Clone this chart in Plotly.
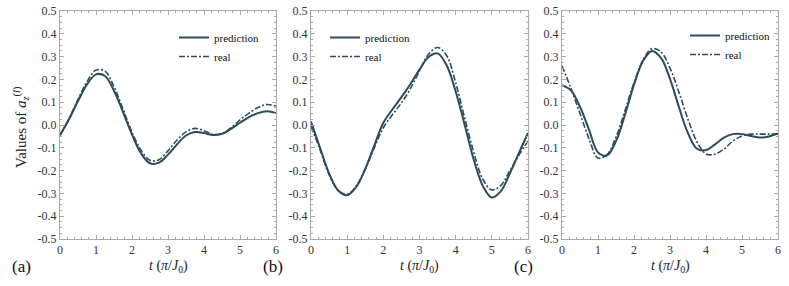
import plotly.graph_objects as go

W, H = 789, 286

t = [0, 0.25, 0.5, 0.75, 1.0, 1.25, 1.5, 1.75, 2.0, 2.25, 2.5, 2.75, 3.0,
     3.25, 3.5, 3.75, 4.0, 4.25, 4.5, 4.75, 5.0, 5.25, 5.5, 5.75, 6.0]

pred_a = [-0.045, 0.025, 0.105, 0.178, 0.222, 0.215, 0.15, 0.057, -0.042, -0.124,
          -0.168, -0.165, -0.13, -0.085, -0.046, -0.031, -0.035, -0.044, -0.039, -0.017,
          0.01, 0.035, 0.052, 0.06, 0.052]
real_a = [-0.045, 0.028, 0.112, 0.19, 0.241, 0.236, 0.168, 0.07, -0.032, -0.11,
          -0.155, -0.152, -0.113, -0.066, -0.03, -0.015, -0.025, -0.041, -0.037, -0.012,
          0.022, 0.052, 0.077, 0.09, 0.083]

pred_b = [0.015, -0.1, -0.212, -0.287, -0.308, -0.272, -0.192, -0.09, 0.01, 0.068,
          0.122, 0.18, 0.243, 0.298, 0.314, 0.262, 0.147, 0.0, -0.152, -0.267,
          -0.318, -0.29, -0.212, -0.122, -0.035]
real_b = [-0.005, -0.108, -0.218, -0.287, -0.304, -0.268, -0.195, -0.1, -0.012, 0.045,
          0.097, 0.16, 0.238, 0.31, 0.34, 0.305, 0.185, 0.03, -0.12, -0.238,
          -0.285, -0.265, -0.2, -0.132, -0.07]

pred_c = [0.175, 0.152, 0.08, -0.02, -0.12, -0.134, -0.071, 0.045, 0.177, 0.281,
          0.325, 0.294, 0.202, 0.078, -0.036, -0.104, -0.11, -0.085, -0.055, -0.04,
          -0.04, -0.048, -0.055, -0.05, -0.037]
real_c = [0.26, 0.16, 0.05, -0.06, -0.145, -0.13, -0.053, 0.063, 0.185, 0.285,
          0.335, 0.32, 0.25, 0.143, 0.025, -0.074, -0.127, -0.128, -0.105, -0.07,
          -0.048, -0.04, -0.04, -0.04, -0.04]

x_ticks = [0, 1, 2, 3, 4, 5, 6]
x_ticktext = ["0", "1", "2", "3", "4", "5", "6"]
y_ticks = [-0.5, -0.4, -0.3, -0.2, -0.1, 0.0, 0.1, 0.2, 0.3, 0.4, 0.5]
y_ticktext = ["-0.5", "-0.4", "-0.3", "-0.2", "-0.1", "0.0", "0.1", "0.2", "0.3", "0.4", "0.5"]
panel_labels = ["(a)", "(b)", "(c)"]
series_names = ["prediction", "real"]

LINE = "#2d4b5b"
FRAME = "#a8a8a8"
FONT = "Liberation Serif, Times New Roman, DejaVu Serif, serif"

# pixel layout
panels_px = [(60, 276), (311, 528), (562, 778)]
y_top, y_bot = 11, 239
legend_px = [(174, 23), (325, 23), (685, 21)]

fig = go.Figure()
data = [(pred_a, real_a), (pred_b, real_b), (pred_c, real_c)]
for i, (p, r) in enumerate(data):
    sfx = "" if i == 0 else str(i + 1)
    leg = "legend" + sfx
    fig.add_trace(go.Scatter(x=t, y=p, mode="lines", name=series_names[0],
                             line=dict(color=LINE, width=2, shape="spline", smoothing=1.0),
                             xaxis="x" + sfx, yaxis="y" + sfx, legend=leg))
    fig.add_trace(go.Scatter(x=t, y=r, mode="lines", name=series_names[1],
                             line=dict(color=LINE, width=1.6, shape="spline", smoothing=1.0,
                                       dash="6px,2px,2px,2px"),
                             xaxis="x" + sfx, yaxis="y" + sfx, legend=leg))

layout = dict(width=W, height=H, autosize=False, margin=dict(l=0, r=0, t=0, b=0, pad=0),
              paper_bgcolor="white", plot_bgcolor="white", showlegend=True,
              font=dict(family=FONT, size=11, color="#333333"))

ydom = [(H - y_bot) / H, (H - y_top) / H]
for i, (x0, x1) in enumerate(panels_px):
    sfx = "" if i == 0 else str(i + 1)
    layout["xaxis" + sfx] = dict(
        domain=[x0 / W, x1 / W], range=[0, 6], anchor="y" + sfx, automargin=False,
        tickvals=x_ticks, ticktext=x_ticktext, ticks="inside", ticklen=4,
        tickcolor=FRAME, showline=True, linecolor=FRAME, linewidth=1, mirror="allticks",
        showgrid=False, zeroline=False,
        minor=dict(ticks="inside", dtick=0.2, ticklen=2, tickcolor=FRAME, showgrid=False),
        tickfont=dict(family=FONT, size=12, color="#333333"))
    layout["yaxis" + sfx] = dict(
        domain=ydom, range=[-0.5, 0.5], anchor="x" + sfx, automargin=False,
        tickvals=y_ticks, ticktext=y_ticktext, ticks="inside", ticklen=4,
        tickcolor=FRAME, showline=True, linecolor=FRAME, linewidth=1, mirror="allticks",
        showgrid=False, zeroline=False,
        minor=dict(ticks="inside", dtick=0.025, ticklen=2, tickcolor=FRAME, showgrid=False),
        tickfont=dict(family=FONT, size=12, color="#333333"))
    lx, ly = legend_px[i]
    layout["legend" + sfx] = dict(
        x=lx / W, y=(H - ly) / H, xanchor="left", yanchor="top",
        bgcolor="rgba(0,0,0,0)", borderwidth=0, itemwidth=30,
        tracegroupgap=0, font=dict(family=FONT, size=11, color="#111111"))

annotations = []
for i, (x0, x1) in enumerate(panels_px):
    annotations.append(dict(
        text="<i>t</i> (<i>π</i>/<i>J</i><sub>0</sub>)", xref="paper", yref="paper",
        x=(x0 + x1) / 2 / W, y=(H - 266) / H, xanchor="center", yanchor="middle",
        showarrow=False, font=dict(family=FONT, size=14, color="#222222")))
    annotations.append(dict(
        text=panel_labels[i], xref="paper", yref="paper",
        x=(x0 - 50) / W, y=(H - 266) / H, xanchor="left", yanchor="middle",
        showarrow=False, font=dict(family=FONT, size=17, color="#111111")))
annotations.append(dict(
    text="Values of <i>a</i><sub><i>z</i></sub><sup>(<i>l</i>)</sup>", xref="paper", yref="paper",
    x=21 / W, y=(H - 127) / H, xanchor="center", yanchor="middle", textangle=-90,
    showarrow=False, font=dict(family=FONT, size=15, color="#222222")))
layout["annotations"] = annotations

fig.update_layout(**layout)
fig.write_html("out.html", config={"displayModeBar": False},
               post_script="document.body.style.margin='0';")
